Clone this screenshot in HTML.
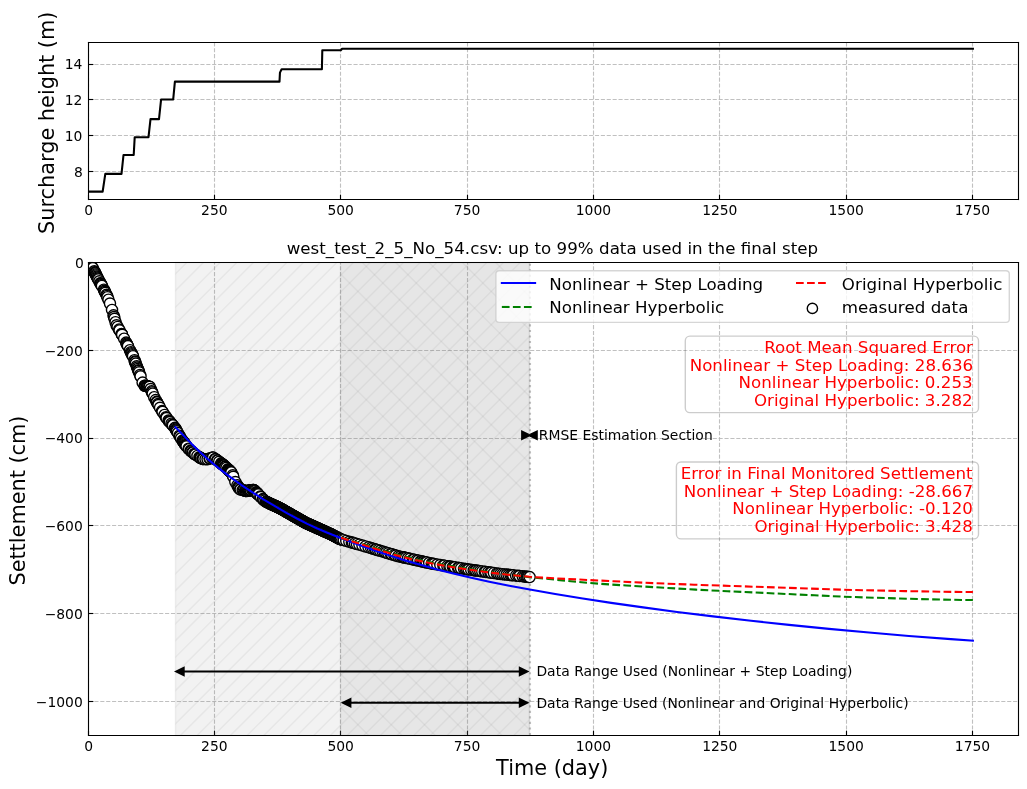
<!DOCTYPE html>
<html><head><meta charset="utf-8"><title>west_test_2_5_No_54</title>
<style>html,body{margin:0;padding:0;background:#fff}svg{display:block}text{font-family:"DejaVu Sans","Liberation Sans",sans-serif}</style>
</head><body>
<svg width="1027" height="789" viewBox="44.640 47.520 739.440 568.080">
 <defs>
  <style type="text/css">*{stroke-linejoin: round; stroke-linecap: butt}</style>
 </defs>
 <g id="figure_1">
  <g id="patch_1">
   <path d="M 0 648 L 864 648 L 864 0 L 0 0 z" style="fill: #ffffff"/>
  </g>
  <g id="axes_1">
   <g id="patch_2">
    <path d="M 108 191.16 L 777.6 191.16 L 777.6 77.76 L 108 77.76 z" style="fill: #ffffff"/>
   </g>
   <g id="matplotlib.axis_1">
    <g id="xtick_1">
     <g id="line2d_1">
      <path d="M 108.360 191.160 L 108.360 78.120" clip-path="url(#p1f0228e9eb)" style="fill: none; stroke-dasharray: 2.96,1.28; stroke-dashoffset: 0; stroke: #b0b0b0; stroke-opacity: 0.8; stroke-width: 0.8"/>
     </g>
     <g id="line2d_2">
      <g>
       <path d="M 0 0 L 0 -3.5" transform="translate(108.360 191.160)" style="stroke: #000000; stroke-width: 0.8"/>
      </g>
     </g>
     <g id="text_1">
      <text style="font-size: 10px; font-family: 'DejaVu Sans', 'Liberation Sans', sans-serif; text-anchor: middle" x="108.4320" y="202.3200">0</text>
     </g>
    </g>
    <g id="xtick_2">
     <g id="line2d_3">
      <path d="M 199.080 191.160 L 199.080 78.120" clip-path="url(#p1f0228e9eb)" style="fill: none; stroke-dasharray: 2.96,1.28; stroke-dashoffset: 0; stroke: #b0b0b0; stroke-opacity: 0.8; stroke-width: 0.8"/>
     </g>
     <g id="line2d_4">
      <g>
       <path d="M 0 0 L 0 -3.5" transform="translate(199.080 191.160)" style="stroke: #000000; stroke-width: 0.8"/>
      </g>
     </g>
     <g id="text_2">
      <text style="font-size: 10px; font-family: 'DejaVu Sans', 'Liberation Sans', sans-serif; text-anchor: middle" x="198.9783" y="202.3200">250</text>
     </g>
    </g>
    <g id="xtick_3">
     <g id="line2d_5">
      <path d="M 289.800 191.160 L 289.800 78.120" clip-path="url(#p1f0228e9eb)" style="fill: none; stroke-dasharray: 2.96,1.28; stroke-dashoffset: 0; stroke: #b0b0b0; stroke-opacity: 0.8; stroke-width: 0.8"/>
     </g>
     <g id="line2d_6">
      <g>
       <path d="M 0 0 L 0 -3.5" transform="translate(289.800 191.160)" style="stroke: #000000; stroke-width: 0.8"/>
      </g>
     </g>
     <g id="text_3">
      <text style="font-size: 10px; font-family: 'DejaVu Sans', 'Liberation Sans', sans-serif; text-anchor: middle" x="289.9565" y="202.3200">500</text>
     </g>
    </g>
    <g id="xtick_4">
     <g id="line2d_7">
      <path d="M 381.240 191.160 L 381.240 78.120" clip-path="url(#p1f0228e9eb)" style="fill: none; stroke-dasharray: 2.96,1.28; stroke-dashoffset: 0; stroke: #b0b0b0; stroke-opacity: 0.8; stroke-width: 0.8"/>
     </g>
     <g id="line2d_8">
      <g>
       <path d="M 0 0 L 0 -3.5" transform="translate(381.240 191.160)" style="stroke: #000000; stroke-width: 0.8"/>
      </g>
     </g>
     <g id="text_4">
      <text style="font-size: 10px; font-family: 'DejaVu Sans', 'Liberation Sans', sans-serif; text-anchor: middle" x="380.9348" y="202.3200">750</text>
     </g>
    </g>
    <g id="xtick_5">
     <g id="line2d_9">
      <path d="M 471.960 191.160 L 471.960 78.120" clip-path="url(#p1f0228e9eb)" style="fill: none; stroke-dasharray: 2.96,1.28; stroke-dashoffset: 0; stroke: #b0b0b0; stroke-opacity: 0.8; stroke-width: 0.8"/>
     </g>
     <g id="line2d_10">
      <g>
       <path d="M 0 0 L 0 -3.5" transform="translate(471.960 191.160)" style="stroke: #000000; stroke-width: 0.8"/>
      </g>
     </g>
     <g id="text_5">
      <text style="font-size: 10px; font-family: 'DejaVu Sans', 'Liberation Sans', sans-serif; text-anchor: middle" x="471.9130" y="202.3200">1000</text>
     </g>
    </g>
    <g id="xtick_6">
     <g id="line2d_11">
      <path d="M 562.680 191.160 L 562.680 78.120" clip-path="url(#p1f0228e9eb)" style="fill: none; stroke-dasharray: 2.96,1.28; stroke-dashoffset: 0; stroke: #b0b0b0; stroke-opacity: 0.8; stroke-width: 0.8"/>
     </g>
     <g id="line2d_12">
      <g>
       <path d="M 0 0 L 0 -3.5" transform="translate(562.680 191.160)" style="stroke: #000000; stroke-width: 0.8"/>
      </g>
     </g>
     <g id="text_6">
      <text style="font-size: 10px; font-family: 'DejaVu Sans', 'Liberation Sans', sans-serif; text-anchor: middle" x="562.8913" y="202.3200">1250</text>
     </g>
    </g>
    <g id="xtick_7">
     <g id="line2d_13">
      <path d="M 654.120 191.160 L 654.120 78.120" clip-path="url(#p1f0228e9eb)" style="fill: none; stroke-dasharray: 2.96,1.28; stroke-dashoffset: 0; stroke: #b0b0b0; stroke-opacity: 0.8; stroke-width: 0.8"/>
     </g>
     <g id="line2d_14">
      <g>
       <path d="M 0 0 L 0 -3.5" transform="translate(654.120 191.160)" style="stroke: #000000; stroke-width: 0.8"/>
      </g>
     </g>
     <g id="text_7">
      <text style="font-size: 10px; font-family: 'DejaVu Sans', 'Liberation Sans', sans-serif; text-anchor: middle" x="653.8696" y="202.3200">1500</text>
     </g>
    </g>
    <g id="xtick_8">
     <g id="line2d_15">
      <path d="M 744.840 191.160 L 744.840 78.120" clip-path="url(#p1f0228e9eb)" style="fill: none; stroke-dasharray: 2.96,1.28; stroke-dashoffset: 0; stroke: #b0b0b0; stroke-opacity: 0.8; stroke-width: 0.8"/>
     </g>
     <g id="line2d_16">
      <g>
       <path d="M 0 0 L 0 -3.5" transform="translate(744.840 191.160)" style="stroke: #000000; stroke-width: 0.8"/>
      </g>
     </g>
     <g id="text_8">
      <text style="font-size: 10px; font-family: 'DejaVu Sans', 'Liberation Sans', sans-serif; text-anchor: middle" x="744.8478" y="202.3200">1750</text>
     </g>
    </g>
   </g>
   <g id="matplotlib.axis_2">
    <g id="ytick_1">
     <g id="line2d_17">
      <path d="M 108.360 171.000 L 777.960 171.000" clip-path="url(#p1f0228e9eb)" style="fill: none; stroke-dasharray: 2.96,1.28; stroke-dashoffset: 0; stroke: #b0b0b0; stroke-opacity: 0.8; stroke-width: 0.8"/>
     </g>
     <g id="line2d_18">
      <g>
       <path d="M 0 0 L 3.5 0" transform="translate(108.360 171.000)" style="stroke: #000000; stroke-width: 0.8"/>
      </g>
     </g>
     <g id="text_9">
      <text style="font-size: 10px; font-family: 'DejaVu Sans', 'Liberation Sans', sans-serif; text-anchor: end" x="104.2840" y="174.9600">8</text>
     </g>
    </g>
    <g id="ytick_2">
     <g id="line2d_19">
      <path d="M 108.360 145.080 L 777.960 145.080" clip-path="url(#p1f0228e9eb)" style="fill: none; stroke-dasharray: 2.96,1.28; stroke-dashoffset: 0; stroke: #b0b0b0; stroke-opacity: 0.8; stroke-width: 0.8"/>
     </g>
     <g id="line2d_20">
      <g>
       <path d="M 0 0 L 3.5 0" transform="translate(108.360 145.080)" style="stroke: #000000; stroke-width: 0.8"/>
      </g>
     </g>
     <g id="text_10">
      <text style="font-size: 10px; font-family: 'DejaVu Sans', 'Liberation Sans', sans-serif; text-anchor: end" x="103.8880" y="149.0400">10</text>
     </g>
    </g>
    <g id="ytick_3">
     <g id="line2d_21">
      <path d="M 108.360 119.160 L 777.960 119.160" clip-path="url(#p1f0228e9eb)" style="fill: none; stroke-dasharray: 2.96,1.28; stroke-dashoffset: 0; stroke: #b0b0b0; stroke-opacity: 0.8; stroke-width: 0.8"/>
     </g>
     <g id="line2d_22">
      <g>
       <path d="M 0 0 L 3.5 0" transform="translate(108.360 119.160)" style="stroke: #000000; stroke-width: 0.8"/>
      </g>
     </g>
     <g id="text_11">
      <text style="font-size: 10px; font-family: 'DejaVu Sans', 'Liberation Sans', sans-serif; text-anchor: end" x="103.8880" y="123.1200">12</text>
     </g>
    </g>
    <g id="ytick_4">
     <g id="line2d_23">
      <path d="M 108.360 93.960 L 777.960 93.960" clip-path="url(#p1f0228e9eb)" style="fill: none; stroke-dasharray: 2.96,1.28; stroke-dashoffset: 0; stroke: #b0b0b0; stroke-opacity: 0.8; stroke-width: 0.8"/>
     </g>
     <g id="line2d_24">
      <g>
       <path d="M 0 0 L 3.5 0" transform="translate(108.360 93.960)" style="stroke: #000000; stroke-width: 0.8"/>
      </g>
     </g>
     <g id="text_12">
      <text style="font-size: 10px; font-family: 'DejaVu Sans', 'Liberation Sans', sans-serif; text-anchor: end" x="103.8880" y="97.2000">14</text>
     </g>
    </g>
    <g id="text_13">
     <text style="font-size: 15px; font-family: 'DejaVu Sans', 'Liberation Sans', sans-serif; text-anchor: middle" x="83.7195" y="135.9000" transform="rotate(-90 83.7195 135.9000)">Surcharge height (m)</text>
    </g>
   </g>
   <g id="line2d_25">
    <path d="M 108 185.472 L 118.548 185.472 L 120.456 172.728 L 132.12 172.728 L 133.56 159.12 L 140.904 159.12 L 141.624 146.304 L 151.56 146.304 L 153 133.272 L 159.12 133.272 L 160.632 119.124 L 169.344 119.124 L 170.568 106.272 L 245.88 106.272 L 246.2112 99.792 L 247.392 97.344 L 276.408 97.344 L 276.696 83.6784 L 290.016 83.6784 L 290.952 82.6272 L 745.128 82.6272" clip-path="url(#p1f0228e9eb)" style="fill: none; stroke: #000000; stroke-width: 1.5; stroke-linecap: square"/>
   </g>
   <g id="patch_3">
    <path d="M 108.360 191.160 L 108.360 78.120" style="fill: none; stroke: #000000; stroke-width: 0.8; stroke-linejoin: miter; stroke-linecap: square"/>
   </g>
   <g id="patch_4">
    <path d="M 777.960 191.160 L 777.960 78.120" style="fill: none; stroke: #000000; stroke-width: 0.8; stroke-linejoin: miter; stroke-linecap: square"/>
   </g>
   <g id="patch_5">
    <path d="M 108.360 191.160 L 777.960 191.160" style="fill: none; stroke: #000000; stroke-width: 0.8; stroke-linejoin: miter; stroke-linecap: square"/>
   </g>
   <g id="patch_6">
    <path d="M 108.360 78.120 L 777.960 78.120" style="fill: none; stroke: #000000; stroke-width: 0.8; stroke-linejoin: miter; stroke-linecap: square"/>
   </g>
  </g>
  <g id="axes_2">
   <g id="patch_7">
    <path d="M 108 576.72 L 777.6 576.72 L 777.6 236.52 L 108 236.52 z" style="fill: #ffffff"/>
   </g>
   <g id="matplotlib.axis_3">
    <g id="xtick_9">
     <g id="line2d_26">
      <path d="M 108.360 577.080 L 108.360 236.520" clip-path="url(#p2898e21141)" style="fill: none; stroke-dasharray: 2.96,1.28; stroke-dashoffset: 0; stroke: #b0b0b0; stroke-opacity: 0.8; stroke-width: 0.8"/>
     </g>
     <g id="line2d_27">
      <g>
       <path d="M 0 0 L 0 -3.5" transform="translate(108.360 577.080)" style="stroke: #000000; stroke-width: 0.8"/>
      </g>
     </g>
     <g id="text_14">
      <text style="font-size: 10px; font-family: 'DejaVu Sans', 'Liberation Sans', sans-serif; text-anchor: middle" x="108.4320" y="588.2400">0</text>
     </g>
    </g>
    <g id="xtick_10">
     <g id="line2d_28">
      <path d="M 199.080 577.080 L 199.080 236.520" clip-path="url(#p2898e21141)" style="fill: none; stroke-dasharray: 2.96,1.28; stroke-dashoffset: 0; stroke: #b0b0b0; stroke-opacity: 0.8; stroke-width: 0.8"/>
     </g>
     <g id="line2d_29">
      <g>
       <path d="M 0 0 L 0 -3.5" transform="translate(199.080 577.080)" style="stroke: #000000; stroke-width: 0.8"/>
      </g>
     </g>
     <g id="text_15">
      <text style="font-size: 10px; font-family: 'DejaVu Sans', 'Liberation Sans', sans-serif; text-anchor: middle" x="198.9783" y="588.2400">250</text>
     </g>
    </g>
    <g id="xtick_11">
     <g id="line2d_30">
      <path d="M 289.800 577.080 L 289.800 236.520" clip-path="url(#p2898e21141)" style="fill: none; stroke-dasharray: 2.96,1.28; stroke-dashoffset: 0; stroke: #b0b0b0; stroke-opacity: 0.8; stroke-width: 0.8"/>
     </g>
     <g id="line2d_31">
      <g>
       <path d="M 0 0 L 0 -3.5" transform="translate(289.800 577.080)" style="stroke: #000000; stroke-width: 0.8"/>
      </g>
     </g>
     <g id="text_16">
      <text style="font-size: 10px; font-family: 'DejaVu Sans', 'Liberation Sans', sans-serif; text-anchor: middle" x="289.9565" y="588.2400">500</text>
     </g>
    </g>
    <g id="xtick_12">
     <g id="line2d_32">
      <path d="M 381.240 577.080 L 381.240 236.520" clip-path="url(#p2898e21141)" style="fill: none; stroke-dasharray: 2.96,1.28; stroke-dashoffset: 0; stroke: #b0b0b0; stroke-opacity: 0.8; stroke-width: 0.8"/>
     </g>
     <g id="line2d_33">
      <g>
       <path d="M 0 0 L 0 -3.5" transform="translate(381.240 577.080)" style="stroke: #000000; stroke-width: 0.8"/>
      </g>
     </g>
     <g id="text_17">
      <text style="font-size: 10px; font-family: 'DejaVu Sans', 'Liberation Sans', sans-serif; text-anchor: middle" x="380.9348" y="588.2400">750</text>
     </g>
    </g>
    <g id="xtick_13">
     <g id="line2d_34">
      <path d="M 471.960 577.080 L 471.960 236.520" clip-path="url(#p2898e21141)" style="fill: none; stroke-dasharray: 2.96,1.28; stroke-dashoffset: 0; stroke: #b0b0b0; stroke-opacity: 0.8; stroke-width: 0.8"/>
     </g>
     <g id="line2d_35">
      <g>
       <path d="M 0 0 L 0 -3.5" transform="translate(471.960 577.080)" style="stroke: #000000; stroke-width: 0.8"/>
      </g>
     </g>
     <g id="text_18">
      <text style="font-size: 10px; font-family: 'DejaVu Sans', 'Liberation Sans', sans-serif; text-anchor: middle" x="471.9130" y="588.2400">1000</text>
     </g>
    </g>
    <g id="xtick_14">
     <g id="line2d_36">
      <path d="M 562.680 577.080 L 562.680 236.520" clip-path="url(#p2898e21141)" style="fill: none; stroke-dasharray: 2.96,1.28; stroke-dashoffset: 0; stroke: #b0b0b0; stroke-opacity: 0.8; stroke-width: 0.8"/>
     </g>
     <g id="line2d_37">
      <g>
       <path d="M 0 0 L 0 -3.5" transform="translate(562.680 577.080)" style="stroke: #000000; stroke-width: 0.8"/>
      </g>
     </g>
     <g id="text_19">
      <text style="font-size: 10px; font-family: 'DejaVu Sans', 'Liberation Sans', sans-serif; text-anchor: middle" x="562.8913" y="588.2400">1250</text>
     </g>
    </g>
    <g id="xtick_15">
     <g id="line2d_38">
      <path d="M 654.120 577.080 L 654.120 236.520" clip-path="url(#p2898e21141)" style="fill: none; stroke-dasharray: 2.96,1.28; stroke-dashoffset: 0; stroke: #b0b0b0; stroke-opacity: 0.8; stroke-width: 0.8"/>
     </g>
     <g id="line2d_39">
      <g>
       <path d="M 0 0 L 0 -3.5" transform="translate(654.120 577.080)" style="stroke: #000000; stroke-width: 0.8"/>
      </g>
     </g>
     <g id="text_20">
      <text style="font-size: 10px; font-family: 'DejaVu Sans', 'Liberation Sans', sans-serif; text-anchor: middle" x="653.8696" y="588.2400">1500</text>
     </g>
    </g>
    <g id="xtick_16">
     <g id="line2d_40">
      <path d="M 744.840 577.080 L 744.840 236.520" clip-path="url(#p2898e21141)" style="fill: none; stroke-dasharray: 2.96,1.28; stroke-dashoffset: 0; stroke: #b0b0b0; stroke-opacity: 0.8; stroke-width: 0.8"/>
     </g>
     <g id="line2d_41">
      <g>
       <path d="M 0 0 L 0 -3.5" transform="translate(744.840 577.080)" style="stroke: #000000; stroke-width: 0.8"/>
      </g>
     </g>
     <g id="text_21">
      <text style="font-size: 10px; font-family: 'DejaVu Sans', 'Liberation Sans', sans-serif; text-anchor: middle" x="744.8478" y="588.2400">1750</text>
     </g>
    </g>
    <g id="text_22">
     <text style="font-size: 15px; font-family: 'DejaVu Sans', 'Liberation Sans', sans-serif; text-anchor: middle" x="442.2240" y="605.2958">Time (day)</text>
    </g>
   </g>
   <g id="matplotlib.axis_4">
    <g id="ytick_5">
     <g id="line2d_42">
      <path d="M 108.360 552.600 L 777.960 552.600" clip-path="url(#p2898e21141)" style="fill: none; stroke-dasharray: 2.96,1.28; stroke-dashoffset: 0; stroke: #b0b0b0; stroke-opacity: 0.8; stroke-width: 0.8"/>
     </g>
     <g id="line2d_43">
      <g>
       <path d="M 0 0 L 3.5 0" transform="translate(108.360 552.600)" style="stroke: #000000; stroke-width: 0.8"/>
      </g>
     </g>
     <g id="text_23">
      <text style="font-size: 10px; font-family: 'DejaVu Sans', 'Liberation Sans', sans-serif; text-anchor: end" x="104.2120" y="556.3632">−1000</text>
     </g>
    </g>
    <g id="ytick_6">
     <g id="line2d_44">
      <path d="M 108.360 489.240 L 777.960 489.240" clip-path="url(#p2898e21141)" style="fill: none; stroke-dasharray: 2.96,1.28; stroke-dashoffset: 0; stroke: #b0b0b0; stroke-opacity: 0.8; stroke-width: 0.8"/>
     </g>
     <g id="line2d_45">
      <g>
       <path d="M 0 0 L 3.5 0" transform="translate(108.360 489.240)" style="stroke: #000000; stroke-width: 0.8"/>
      </g>
     </g>
     <g id="text_24">
      <text style="font-size: 10px; font-family: 'DejaVu Sans', 'Liberation Sans', sans-serif; text-anchor: end" x="104.2120" y="493.1544">−800</text>
     </g>
    </g>
    <g id="ytick_7">
     <g id="line2d_46">
      <path d="M 108.360 425.880 L 777.960 425.880" clip-path="url(#p2898e21141)" style="fill: none; stroke-dasharray: 2.96,1.28; stroke-dashoffset: 0; stroke: #b0b0b0; stroke-opacity: 0.8; stroke-width: 0.8"/>
     </g>
     <g id="line2d_47">
      <g>
       <path d="M 0 0 L 3.5 0" transform="translate(108.360 425.880)" style="stroke: #000000; stroke-width: 0.8"/>
      </g>
     </g>
     <g id="text_25">
      <text style="font-size: 10px; font-family: 'DejaVu Sans', 'Liberation Sans', sans-serif; text-anchor: end" x="104.2120" y="429.9456">−600</text>
     </g>
    </g>
    <g id="ytick_8">
     <g id="line2d_48">
      <path d="M 108.360 363.240 L 777.960 363.240" clip-path="url(#p2898e21141)" style="fill: none; stroke-dasharray: 2.96,1.28; stroke-dashoffset: 0; stroke: #b0b0b0; stroke-opacity: 0.8; stroke-width: 0.8"/>
     </g>
     <g id="line2d_49">
      <g>
       <path d="M 0 0 L 3.5 0" transform="translate(108.360 363.240)" style="stroke: #000000; stroke-width: 0.8"/>
      </g>
     </g>
     <g id="text_26">
      <text style="font-size: 10px; font-family: 'DejaVu Sans', 'Liberation Sans', sans-serif; text-anchor: end" x="104.2120" y="366.7368">−400</text>
     </g>
    </g>
    <g id="ytick_9">
     <g id="line2d_50">
      <path d="M 108.360 299.880 L 777.960 299.880" clip-path="url(#p2898e21141)" style="fill: none; stroke-dasharray: 2.96,1.28; stroke-dashoffset: 0; stroke: #b0b0b0; stroke-opacity: 0.8; stroke-width: 0.8"/>
     </g>
     <g id="line2d_51">
      <g>
       <path d="M 0 0 L 3.5 0" transform="translate(108.360 299.880)" style="stroke: #000000; stroke-width: 0.8"/>
      </g>
     </g>
     <g id="text_27">
      <text style="font-size: 10px; font-family: 'DejaVu Sans', 'Liberation Sans', sans-serif; text-anchor: end" x="104.2120" y="303.5280">−200</text>
     </g>
    </g>
    <g id="ytick_10">
     <g id="line2d_52">
      <path d="M 108.360 236.520 L 777.960 236.520" clip-path="url(#p2898e21141)" style="fill: none; stroke-dasharray: 2.96,1.28; stroke-dashoffset: 0; stroke: #b0b0b0; stroke-opacity: 0.8; stroke-width: 0.8"/>
     </g>
     <g id="line2d_53">
      <g>
       <path d="M 0 0 L 3.5 0" transform="translate(108.360 236.520)" style="stroke: #000000; stroke-width: 0.8"/>
      </g>
     </g>
     <g id="text_28">
      <text style="font-size: 10px; font-family: 'DejaVu Sans', 'Liberation Sans', sans-serif; text-anchor: end" x="105.0040" y="240.3192">0</text>
     </g>
    </g>
    <g id="text_29">
     <text style="font-size: 15px; font-family: 'DejaVu Sans', 'Liberation Sans', sans-serif; text-anchor: middle" x="62.7588" y="407.9160" transform="rotate(-90 62.7588 407.9160)">Settlement (cm)</text>
    </g>
   </g>
   <g id="patch_8">
    <clipPath id="spanclip1"><rect x="171.000" y="236.520" width="254.880" height="340.560"/></clipPath><rect x="171.000" y="236.520" width="254.880" height="340.560" style="fill:#808080;fill-opacity:0.1;stroke:#808080;stroke-opacity:0.1;stroke-width:1"/><path clip-path="url(#spanclip1)" d="M-187.44 579.08L157.12 234.52M-175.44 579.08L169.12 234.52M-163.44 579.08L181.12 234.52M-151.44 579.08L193.12 234.52M-139.44 579.08L205.12 234.52M-127.44 579.08L217.12 234.52M-115.44 579.08L229.12 234.52M-103.44 579.08L241.12 234.52M-91.44 579.08L253.12 234.52M-79.44 579.08L265.12 234.52M-67.44 579.08L277.12 234.52M-55.44 579.08L289.12 234.52M-43.44 579.08L301.12 234.52M-31.44 579.08L313.12 234.52M-19.44 579.08L325.12 234.52M-7.44 579.08L337.12 234.52M4.56 579.08L349.12 234.52M16.56 579.08L361.12 234.52M28.56 579.08L373.12 234.52M40.56 579.08L385.12 234.52M52.56 579.08L397.12 234.52M64.56 579.08L409.12 234.52M76.56 579.08L421.12 234.52M88.56 579.08L433.12 234.52M100.56 579.08L445.12 234.52M112.56 579.08L457.12 234.52M124.56 579.08L469.12 234.52M136.56 579.08L481.12 234.52M148.56 579.08L493.12 234.52M160.56 579.08L505.12 234.52M172.56 579.08L517.12 234.52M184.56 579.08L529.12 234.52M196.56 579.08L541.12 234.52M208.56 579.08L553.12 234.52M220.56 579.08L565.12 234.52M232.56 579.08L577.12 234.52M244.56 579.08L589.12 234.52M256.56 579.08L601.12 234.52M268.56 579.08L613.12 234.52M280.56 579.08L625.12 234.52M292.56 579.08L637.12 234.52M304.56 579.08L649.12 234.52M316.56 579.08L661.12 234.52M328.56 579.08L673.12 234.52M340.56 579.08L685.12 234.52M352.56 579.08L697.12 234.52M364.56 579.08L709.12 234.52M376.56 579.08L721.12 234.52M388.56 579.08L733.12 234.52M400.56 579.08L745.12 234.52M412.56 579.08L757.12 234.52M424.56 579.08L769.12 234.52M436.56 579.08L781.12 234.52" style="fill:none;stroke:#808080;stroke-opacity:0.1;stroke-width:1"/>
   </g>
   <g id="patch_9">
    <clipPath id="spanclip2"><rect x="289.800" y="236.520" width="136.080" height="340.560"/></clipPath><rect x="289.800" y="236.520" width="136.080" height="340.560" style="fill:#808080;fill-opacity:0.1;stroke:#808080;stroke-opacity:0.1;stroke-width:1"/><path clip-path="url(#spanclip2)" d="M-80.46 234.52L264.10 579.08M-56.46 234.52L288.10 579.08M-32.46 234.52L312.10 579.08M-8.46 234.52L336.10 579.08M15.54 234.52L360.10 579.08M39.54 234.52L384.10 579.08M63.54 234.52L408.10 579.08M87.54 234.52L432.10 579.08M111.54 234.52L456.10 579.08M135.54 234.52L480.10 579.08M159.54 234.52L504.10 579.08M183.54 234.52L528.10 579.08M207.54 234.52L552.10 579.08M231.54 234.52L576.10 579.08M255.54 234.52L600.10 579.08M279.54 234.52L624.10 579.08M303.54 234.52L648.10 579.08M327.54 234.52L672.10 579.08M351.54 234.52L696.10 579.08M375.54 234.52L720.10 579.08M399.54 234.52L744.10 579.08M423.54 234.52L768.10 579.08M447.54 234.52L792.10 579.08M471.54 234.52L816.10 579.08" style="fill:none;stroke:#808080;stroke-opacity:0.1;stroke-width:1"/>
   </g>
   <g id="PathCollection_1" style="fill:#fff;stroke:#000;stroke-width:1">
    <g clip-path="url(#p2898e21141)">
     <circle cx="108.00" cy="236.52" r="4"/>
     <circle cx="109.09" cy="237.61" r="4"/>
     <circle cx="109.27" cy="237.80" r="4"/>
     <circle cx="109.64" cy="238.16" r="4"/>
     <circle cx="110.00" cy="238.53" r="4"/>
     <circle cx="110.37" cy="238.89" r="4"/>
     <circle cx="111.46" cy="240.55" r="4"/>
     <circle cx="112.55" cy="242.83" r="4"/>
     <circle cx="112.91" cy="243.59" r="4"/>
     <circle cx="113.09" cy="243.97" r="4"/>
     <circle cx="113.28" cy="244.35" r="4"/>
     <circle cx="113.64" cy="245.11" r="4"/>
     <circle cx="114.00" cy="245.87" r="4"/>
     <circle cx="114.37" cy="246.63" r="4"/>
     <circle cx="114.73" cy="247.37" r="4"/>
     <circle cx="115.10" cy="248.04" r="4"/>
     <circle cx="115.46" cy="248.71" r="4"/>
     <circle cx="116.19" cy="250.05" r="4"/>
     <circle cx="116.92" cy="251.39" r="4"/>
     <circle cx="117.10" cy="251.73" r="4"/>
     <circle cx="117.28" cy="252.07" r="4"/>
     <circle cx="117.64" cy="252.74" r="4"/>
     <circle cx="118.01" cy="253.41" r="4"/>
     <circle cx="119.46" cy="256.12" r="4"/>
     <circle cx="119.83" cy="256.85" r="4"/>
     <circle cx="120.19" cy="257.59" r="4"/>
     <circle cx="120.56" cy="258.33" r="4"/>
     <circle cx="121.28" cy="259.81" r="4"/>
     <circle cx="121.65" cy="260.60" r="4"/>
     <circle cx="122.01" cy="261.51" r="4"/>
     <circle cx="122.74" cy="263.33" r="4"/>
     <circle cx="123.83" cy="266.06" r="4"/>
     <circle cx="125.29" cy="270.65" r="4"/>
     <circle cx="126.38" cy="274.56" r="4"/>
     <circle cx="126.74" cy="275.78" r="4"/>
     <circle cx="127.11" cy="277.01" r="4"/>
     <circle cx="127.83" cy="279.45" r="4"/>
     <circle cx="128.56" cy="281.69" r="4"/>
     <circle cx="129.29" cy="282.94" r="4"/>
     <circle cx="130.38" cy="284.81" r="4"/>
     <circle cx="130.74" cy="285.43" r="4"/>
     <circle cx="132.20" cy="287.93" r="4"/>
     <circle cx="132.38" cy="288.24" r="4"/>
     <circle cx="132.56" cy="288.56" r="4"/>
     <circle cx="134.02" cy="291.36" r="4"/>
     <circle cx="135.48" cy="294.21" r="4"/>
     <circle cx="135.84" cy="294.93" r="4"/>
     <circle cx="136.20" cy="295.64" r="4"/>
     <circle cx="136.57" cy="296.36" r="4"/>
     <circle cx="136.75" cy="296.71" r="4"/>
     <circle cx="138.20" cy="299.62" r="4"/>
     <circle cx="138.93" cy="301.07" r="4"/>
     <circle cx="139.30" cy="301.80" r="4"/>
     <circle cx="139.66" cy="302.53" r="4"/>
     <circle cx="140.02" cy="303.25" r="4"/>
     <circle cx="140.39" cy="303.98" r="4"/>
     <circle cx="141.48" cy="306.88" r="4"/>
     <circle cx="141.84" cy="307.85" r="4"/>
     <circle cx="142.03" cy="308.33" r="4"/>
     <circle cx="142.39" cy="309.30" r="4"/>
     <circle cx="143.12" cy="311.23" r="4"/>
     <circle cx="143.48" cy="312.20" r="4"/>
     <circle cx="143.85" cy="313.16" r="4"/>
     <circle cx="144.21" cy="314.13" r="4"/>
     <circle cx="144.39" cy="314.61" r="4"/>
     <circle cx="144.76" cy="315.57" r="4"/>
     <circle cx="145.48" cy="317.50" r="4"/>
     <circle cx="145.85" cy="318.47" r="4"/>
     <circle cx="147.30" cy="322.97" r="4"/>
     <circle cx="148.76" cy="325.25" r="4"/>
     <circle cx="149.12" cy="325.33" r="4"/>
     <circle cx="149.49" cy="325.40" r="4"/>
     <circle cx="150.21" cy="325.56" r="4"/>
     <circle cx="150.58" cy="325.63" r="4"/>
     <circle cx="150.94" cy="325.71" r="4"/>
     <circle cx="151.31" cy="325.79" r="4"/>
     <circle cx="152.03" cy="325.94" r="4"/>
     <circle cx="152.40" cy="326.01" r="4"/>
     <circle cx="153.13" cy="327.61" r="4"/>
     <circle cx="153.85" cy="329.28" r="4"/>
     <circle cx="154.22" cy="330.11" r="4"/>
     <circle cx="154.58" cy="330.95" r="4"/>
     <circle cx="155.67" cy="333.45" r="4"/>
     <circle cx="156.76" cy="335.56" r="4"/>
     <circle cx="157.49" cy="336.86" r="4"/>
     <circle cx="157.67" cy="337.19" r="4"/>
     <circle cx="158.40" cy="338.49" r="4"/>
     <circle cx="158.77" cy="339.15" r="4"/>
     <circle cx="159.86" cy="341.11" r="4"/>
     <circle cx="161.31" cy="343.49" r="4"/>
     <circle cx="161.68" cy="344.04" r="4"/>
     <circle cx="163.13" cy="346.27" r="4"/>
     <circle cx="164.22" cy="347.94" r="4"/>
     <circle cx="164.59" cy="348.49" r="4"/>
     <circle cx="166.04" cy="350.31" r="4"/>
     <circle cx="166.41" cy="350.73" r="4"/>
     <circle cx="166.59" cy="350.93" r="4"/>
     <circle cx="166.95" cy="351.35" r="4"/>
     <circle cx="168.05" cy="352.60" r="4"/>
     <circle cx="168.77" cy="353.43" r="4"/>
     <circle cx="169.14" cy="353.85" r="4"/>
     <circle cx="170.59" cy="355.56" r="4"/>
     <circle cx="170.96" cy="356.19" r="4"/>
     <circle cx="171.32" cy="356.82" r="4"/>
     <circle cx="171.68" cy="357.45" r="4"/>
     <circle cx="172.05" cy="358.08" r="4"/>
     <circle cx="172.78" cy="359.34" r="4"/>
     <circle cx="173.87" cy="361.23" r="4"/>
     <circle cx="174.23" cy="361.86" r="4"/>
     <circle cx="174.96" cy="363.12" r="4"/>
     <circle cx="176.05" cy="364.77" r="4"/>
     <circle cx="176.42" cy="365.28" r="4"/>
     <circle cx="176.78" cy="365.79" r="4"/>
     <circle cx="177.14" cy="366.30" r="4"/>
     <circle cx="177.51" cy="366.81" r="4"/>
     <circle cx="177.87" cy="367.32" r="4"/>
     <circle cx="178.24" cy="367.84" r="4"/>
     <circle cx="178.60" cy="368.35" r="4"/>
     <circle cx="178.96" cy="368.86" r="4"/>
     <circle cx="180.42" cy="370.61" r="4"/>
     <circle cx="180.78" cy="370.94" r="4"/>
     <circle cx="181.87" cy="371.92" r="4"/>
     <circle cx="182.24" cy="372.25" r="4"/>
     <circle cx="182.42" cy="372.41" r="4"/>
     <circle cx="183.15" cy="373.06" r="4"/>
     <circle cx="183.51" cy="373.39" r="4"/>
     <circle cx="184.60" cy="374.33" r="4"/>
     <circle cx="184.97" cy="374.57" r="4"/>
     <circle cx="185.33" cy="374.81" r="4"/>
     <circle cx="186.79" cy="375.78" r="4"/>
     <circle cx="188.24" cy="376.75" r="4"/>
     <circle cx="188.61" cy="376.99" r="4"/>
     <circle cx="188.97" cy="377.24" r="4"/>
     <circle cx="189.33" cy="377.48" r="4"/>
     <circle cx="190.43" cy="377.92" r="4"/>
     <circle cx="190.79" cy="377.97" r="4"/>
     <circle cx="191.15" cy="378.01" r="4"/>
     <circle cx="192.61" cy="378.20" r="4"/>
     <circle cx="194.07" cy="378.15" r="4"/>
     <circle cx="195.52" cy="377.70" r="4"/>
     <circle cx="195.88" cy="377.59" r="4"/>
     <circle cx="197.34" cy="377.14" r="4"/>
     <circle cx="197.70" cy="377.02" r="4"/>
     <circle cx="198.07" cy="376.91" r="4"/>
     <circle cx="199.52" cy="377.91" r="4"/>
     <circle cx="199.89" cy="378.17" r="4"/>
     <circle cx="200.98" cy="378.94" r="4"/>
     <circle cx="201.34" cy="379.20" r="4"/>
     <circle cx="202.44" cy="379.97" r="4"/>
     <circle cx="203.89" cy="381.13" r="4"/>
     <circle cx="204.07" cy="381.28" r="4"/>
     <circle cx="204.44" cy="381.58" r="4"/>
     <circle cx="204.80" cy="381.87" r="4"/>
     <circle cx="204.98" cy="382.02" r="4"/>
     <circle cx="205.16" cy="382.17" r="4"/>
     <circle cx="205.53" cy="382.46" r="4"/>
     <circle cx="205.89" cy="382.76" r="4"/>
     <circle cx="206.62" cy="383.35" r="4"/>
     <circle cx="206.98" cy="383.65" r="4"/>
     <circle cx="207.71" cy="384.32" r="4"/>
     <circle cx="208.80" cy="385.39" r="4"/>
     <circle cx="209.17" cy="385.75" r="4"/>
     <circle cx="209.53" cy="386.10" r="4"/>
     <circle cx="209.71" cy="386.28" r="4"/>
     <circle cx="210.08" cy="386.64" r="4"/>
     <circle cx="210.44" cy="386.99" r="4"/>
     <circle cx="210.81" cy="387.35" r="4"/>
     <circle cx="211.17" cy="387.71" r="4"/>
     <circle cx="212.26" cy="389.69" r="4"/>
     <circle cx="212.62" cy="390.79" r="4"/>
     <circle cx="214.08" cy="394.57" r="4"/>
     <circle cx="215.54" cy="396.95" r="4"/>
     <circle cx="216.26" cy="398.13" r="4"/>
     <circle cx="216.45" cy="398.43" r="4"/>
     <circle cx="216.81" cy="399.03" r="4"/>
     <circle cx="217.54" cy="399.86" r="4"/>
     <circle cx="217.90" cy="399.97" r="4"/>
     <circle cx="219.36" cy="400.40" r="4"/>
     <circle cx="220.09" cy="400.61" r="4"/>
     <circle cx="221.18" cy="400.94" r="4"/>
     <circle cx="221.36" cy="400.99" r="4"/>
     <circle cx="221.72" cy="401.10" r="4"/>
     <circle cx="222.45" cy="401.04" r="4"/>
     <circle cx="223.18" cy="400.91" r="4"/>
     <circle cx="223.54" cy="400.85" r="4"/>
     <circle cx="223.91" cy="400.79" r="4"/>
     <circle cx="224.27" cy="400.73" r="4"/>
     <circle cx="224.45" cy="400.70" r="4"/>
     <circle cx="225.18" cy="400.58" r="4"/>
     <circle cx="226.27" cy="400.39" r="4"/>
     <circle cx="227.00" cy="400.27" r="4"/>
     <circle cx="227.18" cy="400.24" r="4"/>
     <circle cx="227.55" cy="400.46" r="4"/>
     <circle cx="227.91" cy="400.82" r="4"/>
     <circle cx="228.27" cy="401.18" r="4"/>
     <circle cx="229.00" cy="401.90" r="4"/>
     <circle cx="229.37" cy="402.26" r="4"/>
     <circle cx="229.55" cy="402.45" r="4"/>
     <circle cx="229.91" cy="402.81" r="4"/>
     <circle cx="230.27" cy="403.17" r="4"/>
     <circle cx="230.64" cy="403.53" r="4"/>
     <circle cx="232.09" cy="404.98" r="4"/>
     <circle cx="232.46" cy="405.35" r="4"/>
     <circle cx="233.91" cy="406.84" r="4"/>
     <circle cx="234.28" cy="407.21" r="4"/>
     <circle cx="235.01" cy="407.95" r="4"/>
     <circle cx="236.10" cy="408.71" r="4"/>
     <circle cx="236.46" cy="408.88" r="4"/>
     <circle cx="236.83" cy="409.05" r="4"/>
     <circle cx="237.55" cy="409.39" r="4"/>
     <circle cx="237.74" cy="409.47" r="4"/>
     <circle cx="238.10" cy="409.64" r="4"/>
     <circle cx="238.46" cy="409.81" r="4"/>
     <circle cx="238.83" cy="409.98" r="4"/>
     <circle cx="239.19" cy="410.15" r="4"/>
     <circle cx="239.37" cy="410.24" r="4"/>
     <circle cx="239.74" cy="410.41" r="4"/>
     <circle cx="240.10" cy="410.58" r="4"/>
     <circle cx="240.46" cy="410.75" r="4"/>
     <circle cx="240.83" cy="410.92" r="4"/>
     <circle cx="241.19" cy="411.09" r="4"/>
     <circle cx="241.56" cy="411.26" r="4"/>
     <circle cx="241.92" cy="411.43" r="4"/>
     <circle cx="242.10" cy="411.51" r="4"/>
     <circle cx="242.47" cy="411.68" r="4"/>
     <circle cx="242.65" cy="411.77" r="4"/>
     <circle cx="243.01" cy="411.94" r="4"/>
     <circle cx="243.38" cy="412.11" r="4"/>
     <circle cx="243.74" cy="412.28" r="4"/>
     <circle cx="244.10" cy="412.45" r="4"/>
     <circle cx="244.47" cy="412.62" r="4"/>
     <circle cx="244.65" cy="412.70" r="4"/>
     <circle cx="244.83" cy="412.79" r="4"/>
     <circle cx="245.20" cy="412.96" r="4"/>
     <circle cx="245.56" cy="413.13" r="4"/>
     <circle cx="245.74" cy="413.22" r="4"/>
     <circle cx="246.10" cy="413.39" r="4"/>
     <circle cx="246.47" cy="413.56" r="4"/>
     <circle cx="246.83" cy="413.76" r="4"/>
     <circle cx="247.20" cy="413.97" r="4"/>
     <circle cx="247.56" cy="414.18" r="4"/>
     <circle cx="247.74" cy="414.28" r="4"/>
     <circle cx="248.11" cy="414.49" r="4"/>
     <circle cx="248.29" cy="414.59" r="4"/>
     <circle cx="248.65" cy="414.80" r="4"/>
     <circle cx="249.02" cy="415.01" r="4"/>
     <circle cx="249.38" cy="415.22" r="4"/>
     <circle cx="249.56" cy="415.32" r="4"/>
     <circle cx="249.93" cy="415.53" r="4"/>
     <circle cx="250.29" cy="415.74" r="4"/>
     <circle cx="250.65" cy="415.95" r="4"/>
     <circle cx="251.02" cy="416.15" r="4"/>
     <circle cx="251.38" cy="416.36" r="4"/>
     <circle cx="251.75" cy="416.57" r="4"/>
     <circle cx="252.11" cy="416.78" r="4"/>
     <circle cx="252.47" cy="416.99" r="4"/>
     <circle cx="252.84" cy="417.19" r="4"/>
     <circle cx="253.20" cy="417.40" r="4"/>
     <circle cx="253.57" cy="417.61" r="4"/>
     <circle cx="253.93" cy="417.82" r="4"/>
     <circle cx="254.29" cy="418.02" r="4"/>
     <circle cx="254.66" cy="418.23" r="4"/>
     <circle cx="255.02" cy="418.44" r="4"/>
     <circle cx="255.38" cy="418.65" r="4"/>
     <circle cx="255.75" cy="418.86" r="4"/>
     <circle cx="255.93" cy="418.96" r="4"/>
     <circle cx="256.29" cy="419.17" r="4"/>
     <circle cx="256.66" cy="419.38" r="4"/>
     <circle cx="256.84" cy="419.48" r="4"/>
     <circle cx="257.20" cy="419.69" r="4"/>
     <circle cx="257.57" cy="419.90" r="4"/>
     <circle cx="257.93" cy="420.10" r="4"/>
     <circle cx="258.30" cy="420.31" r="4"/>
     <circle cx="258.66" cy="420.52" r="4"/>
     <circle cx="259.02" cy="420.73" r="4"/>
     <circle cx="259.39" cy="420.94" r="4"/>
     <circle cx="259.57" cy="421.04" r="4"/>
     <circle cx="259.75" cy="421.14" r="4"/>
     <circle cx="259.93" cy="421.25" r="4"/>
     <circle cx="260.30" cy="421.46" r="4"/>
     <circle cx="260.66" cy="421.66" r="4"/>
     <circle cx="261.03" cy="421.87" r="4"/>
     <circle cx="261.39" cy="422.08" r="4"/>
     <circle cx="261.75" cy="422.29" r="4"/>
     <circle cx="262.12" cy="422.49" r="4"/>
     <circle cx="262.30" cy="422.60" r="4"/>
     <circle cx="262.66" cy="422.81" r="4"/>
     <circle cx="262.85" cy="422.91" r="4"/>
     <circle cx="263.03" cy="423.01" r="4"/>
     <circle cx="263.39" cy="423.22" r="4"/>
     <circle cx="263.75" cy="423.43" r="4"/>
     <circle cx="264.12" cy="423.64" r="4"/>
     <circle cx="264.30" cy="423.74" r="4"/>
     <circle cx="264.66" cy="423.95" r="4"/>
     <circle cx="264.85" cy="424.04" r="4"/>
     <circle cx="265.03" cy="424.12" r="4"/>
     <circle cx="265.39" cy="424.28" r="4"/>
     <circle cx="265.76" cy="424.45" r="4"/>
     <circle cx="266.12" cy="424.61" r="4"/>
     <circle cx="266.48" cy="424.78" r="4"/>
     <circle cx="266.67" cy="424.86" r="4"/>
     <circle cx="267.03" cy="425.02" r="4"/>
     <circle cx="267.39" cy="425.19" r="4"/>
     <circle cx="267.76" cy="425.35" r="4"/>
     <circle cx="268.12" cy="425.51" r="4"/>
     <circle cx="268.49" cy="425.68" r="4"/>
     <circle cx="268.67" cy="425.76" r="4"/>
     <circle cx="269.03" cy="425.92" r="4"/>
     <circle cx="269.40" cy="426.09" r="4"/>
     <circle cx="269.76" cy="426.25" r="4"/>
     <circle cx="270.12" cy="426.41" r="4"/>
     <circle cx="270.31" cy="426.50" r="4"/>
     <circle cx="270.67" cy="426.66" r="4"/>
     <circle cx="271.03" cy="426.82" r="4"/>
     <circle cx="271.40" cy="426.99" r="4"/>
     <circle cx="271.58" cy="427.07" r="4"/>
     <circle cx="271.76" cy="427.15" r="4"/>
     <circle cx="272.12" cy="427.31" r="4"/>
     <circle cx="272.49" cy="427.48" r="4"/>
     <circle cx="272.67" cy="427.56" r="4"/>
     <circle cx="273.03" cy="427.72" r="4"/>
     <circle cx="273.22" cy="427.81" r="4"/>
     <circle cx="273.40" cy="427.89" r="4"/>
     <circle cx="273.76" cy="428.05" r="4"/>
     <circle cx="274.13" cy="428.22" r="4"/>
     <circle cx="274.31" cy="428.30" r="4"/>
     <circle cx="274.49" cy="428.38" r="4"/>
     <circle cx="274.85" cy="428.54" r="4"/>
     <circle cx="275.22" cy="428.71" r="4"/>
     <circle cx="275.58" cy="428.87" r="4"/>
     <circle cx="275.95" cy="429.03" r="4"/>
     <circle cx="276.31" cy="429.20" r="4"/>
     <circle cx="276.67" cy="429.36" r="4"/>
     <circle cx="277.04" cy="429.53" r="4"/>
     <circle cx="277.22" cy="429.61" r="4"/>
     <circle cx="277.40" cy="429.69" r="4"/>
     <circle cx="277.58" cy="429.77" r="4"/>
     <circle cx="277.77" cy="429.85" r="4"/>
     <circle cx="278.13" cy="430.02" r="4"/>
     <circle cx="278.49" cy="430.18" r="4"/>
     <circle cx="278.86" cy="430.35" r="4"/>
     <circle cx="279.22" cy="430.51" r="4"/>
     <circle cx="279.40" cy="430.59" r="4"/>
     <circle cx="279.58" cy="430.67" r="4"/>
     <circle cx="279.95" cy="430.84" r="4"/>
     <circle cx="280.31" cy="431.00" r="4"/>
     <circle cx="280.68" cy="431.16" r="4"/>
     <circle cx="280.86" cy="431.25" r="4"/>
     <circle cx="281.22" cy="431.41" r="4"/>
     <circle cx="281.59" cy="431.57" r="4"/>
     <circle cx="281.95" cy="431.74" r="4"/>
     <circle cx="282.31" cy="431.90" r="4"/>
     <circle cx="282.68" cy="432.06" r="4"/>
     <circle cx="283.04" cy="432.23" r="4"/>
     <circle cx="283.41" cy="432.43" r="4"/>
     <circle cx="283.77" cy="432.62" r="4"/>
     <circle cx="284.13" cy="432.81" r="4"/>
     <circle cx="284.50" cy="433.01" r="4"/>
     <circle cx="284.86" cy="433.20" r="4"/>
     <circle cx="285.04" cy="433.30" r="4"/>
     <circle cx="285.41" cy="433.49" r="4"/>
     <circle cx="285.77" cy="433.68" r="4"/>
     <circle cx="286.14" cy="433.88" r="4"/>
     <circle cx="286.50" cy="434.07" r="4"/>
     <circle cx="286.68" cy="434.17" r="4"/>
     <circle cx="286.86" cy="434.26" r="4"/>
     <circle cx="287.23" cy="434.46" r="4"/>
     <circle cx="287.41" cy="434.55" r="4"/>
     <circle cx="287.77" cy="434.75" r="4"/>
     <circle cx="288.14" cy="434.94" r="4"/>
     <circle cx="288.50" cy="435.13" r="4"/>
     <circle cx="288.68" cy="435.23" r="4"/>
     <circle cx="289.05" cy="435.42" r="4"/>
     <circle cx="289.41" cy="435.62" r="4"/>
     <circle cx="289.59" cy="435.70" r="4"/>
     <circle cx="289.96" cy="435.80" r="4"/>
     <circle cx="291.05" cy="436.12" r="4"/>
     <circle cx="292.14" cy="436.43" r="4"/>
     <circle cx="293.96" cy="436.96" r="4"/>
     <circle cx="296.14" cy="437.59" r="4"/>
     <circle cx="297.96" cy="438.12" r="4"/>
     <circle cx="298.69" cy="438.33" r="4"/>
     <circle cx="300.15" cy="438.75" r="4"/>
     <circle cx="301.60" cy="439.17" r="4"/>
     <circle cx="303.42" cy="439.69" r="4"/>
     <circle cx="305.60" cy="440.32" r="4"/>
     <circle cx="307.79" cy="440.97" r="4"/>
     <circle cx="309.97" cy="441.62" r="4"/>
     <circle cx="311.79" cy="442.16" r="4"/>
     <circle cx="313.25" cy="442.60" r="4"/>
     <circle cx="314.70" cy="443.03" r="4"/>
     <circle cx="315.43" cy="443.25" r="4"/>
     <circle cx="316.89" cy="443.68" r="4"/>
     <circle cx="318.34" cy="444.12" r="4"/>
     <circle cx="320.16" cy="444.66" r="4"/>
     <circle cx="321.62" cy="445.10" r="4"/>
     <circle cx="322.71" cy="445.42" r="4"/>
     <circle cx="324.16" cy="445.86" r="4"/>
     <circle cx="325.98" cy="446.40" r="4"/>
     <circle cx="326.71" cy="446.62" r="4"/>
     <circle cx="328.53" cy="447.16" r="4"/>
     <circle cx="329.62" cy="447.49" r="4"/>
     <circle cx="331.44" cy="448.02" r="4"/>
     <circle cx="332.90" cy="448.34" r="4"/>
     <circle cx="334.35" cy="448.66" r="4"/>
     <circle cx="335.08" cy="448.82" r="4"/>
     <circle cx="335.81" cy="448.98" r="4"/>
     <circle cx="336.90" cy="449.22" r="4"/>
     <circle cx="338.36" cy="449.54" r="4"/>
     <circle cx="339.81" cy="449.86" r="4"/>
     <circle cx="342.00" cy="450.34" r="4"/>
     <circle cx="342.72" cy="450.50" r="4"/>
     <circle cx="344.54" cy="450.89" r="4"/>
     <circle cx="345.64" cy="451.13" r="4"/>
     <circle cx="347.45" cy="451.53" r="4"/>
     <circle cx="348.18" cy="451.69" r="4"/>
     <circle cx="349.27" cy="451.93" r="4"/>
     <circle cx="350.00" cy="452.09" r="4"/>
     <circle cx="351.09" cy="452.33" r="4"/>
     <circle cx="351.82" cy="452.49" r="4"/>
     <circle cx="353.64" cy="452.89" r="4"/>
     <circle cx="355.46" cy="453.29" r="4"/>
     <circle cx="356.19" cy="453.43" r="4"/>
     <circle cx="357.28" cy="453.60" r="4"/>
     <circle cx="359.46" cy="453.96" r="4"/>
     <circle cx="361.65" cy="454.31" r="4"/>
     <circle cx="363.83" cy="454.67" r="4"/>
     <circle cx="364.56" cy="454.79" r="4"/>
     <circle cx="366.74" cy="455.14" r="4"/>
     <circle cx="368.20" cy="455.38" r="4"/>
     <circle cx="368.93" cy="455.49" r="4"/>
     <circle cx="370.75" cy="455.79" r="4"/>
     <circle cx="371.47" cy="455.91" r="4"/>
     <circle cx="372.20" cy="456.03" r="4"/>
     <circle cx="374.38" cy="456.38" r="4"/>
     <circle cx="375.11" cy="456.50" r="4"/>
     <circle cx="376.57" cy="456.73" r="4"/>
     <circle cx="378.75" cy="457.09" r="4"/>
     <circle cx="379.84" cy="457.26" r="4"/>
     <circle cx="380.93" cy="457.43" r="4"/>
     <circle cx="382.03" cy="457.58" r="4"/>
     <circle cx="383.85" cy="457.83" r="4"/>
     <circle cx="385.67" cy="458.09" r="4"/>
     <circle cx="386.76" cy="458.24" r="4"/>
     <circle cx="387.49" cy="458.34" r="4"/>
     <circle cx="388.94" cy="458.54" r="4"/>
     <circle cx="390.40" cy="458.75" r="4"/>
     <circle cx="391.85" cy="458.95" r="4"/>
     <circle cx="393.67" cy="459.20" r="4"/>
     <circle cx="394.40" cy="459.30" r="4"/>
     <circle cx="396.22" cy="459.56" r="4"/>
     <circle cx="397.67" cy="459.76" r="4"/>
     <circle cx="398.40" cy="459.86" r="4"/>
     <circle cx="400.22" cy="460.12" r="4"/>
     <circle cx="402.41" cy="460.42" r="4"/>
     <circle cx="403.50" cy="460.57" r="4"/>
     <circle cx="404.95" cy="460.77" r="4"/>
     <circle cx="406.41" cy="460.93" r="4"/>
     <circle cx="407.86" cy="461.08" r="4"/>
     <circle cx="409.32" cy="461.24" r="4"/>
     <circle cx="410.78" cy="461.39" r="4"/>
     <circle cx="412.23" cy="461.55" r="4"/>
     <circle cx="413.32" cy="461.66" r="4"/>
     <circle cx="414.05" cy="461.74" r="4"/>
     <circle cx="416.23" cy="461.97" r="4"/>
     <circle cx="417.69" cy="462.13" r="4"/>
     <circle cx="418.78" cy="462.24" r="4"/>
     <circle cx="420.97" cy="462.48" r="4"/>
     <circle cx="422.42" cy="462.63" r="4"/>
     <circle cx="423.51" cy="462.75" r="4"/>
     <circle cx="424.24" cy="462.83" r="4"/>
     <circle cx="424.97" cy="462.90" r="4"/>
     <circle cx="425.99" cy="463.01" r="4"/>
    </g>
   </g>
   <g id="line2d_54">
    <path d="M 426.240 576.720 L 426.240 236.880" clip-path="url(#p2898e21141)" style="fill: none; stroke-dasharray: 1.5,2.475; stroke-dashoffset: 0; stroke: #808080; stroke-opacity: 0.5; stroke-width: 1.5"/>
   </g>
   <g id="line2d_55">
    <path d="M 170.956957 355.035011 L 182.469158 366.937241 L 188.225259 372.524722 L 193.981359 377.77103 L 199.73746 382.684131 L 205.493561 387.292989 L 211.249661 391.633471 L 218.444787 396.73682 L 225.639913 401.542937 L 234.274064 406.997655 L 242.908215 412.185505 L 251.542366 417.130591 L 258.737492 421.033384 L 265.932618 424.689524 L 273.127744 428.055504 L 280.32287 431.140642 L 288.957021 434.573488 L 300.469222 438.903792 L 313.420449 443.531746 L 324.93265 447.393036 L 336.444851 451.003396 L 347.957053 454.368633 L 359.469254 457.502054 L 370.981455 460.420942 L 383.932682 463.472055 L 396.883908 466.303637 L 411.27416 469.225343 L 427.103437 472.206697 L 444.371739 475.229338 L 463.079066 478.28273 L 484.664444 481.57035 L 507.688847 484.843767 L 532.152275 488.094851 L 558.054728 491.311389 L 585.396206 494.47704 L 612.737684 497.422495 L 641.518188 500.296706 L 670.298691 502.94725 L 699.079195 505.380447 L 729.298723 507.706894 L 745.128 508.833808 L 745.128 508.833808" clip-path="url(#p2898e21141)" style="fill: none; stroke: #0000ff; stroke-width: 1.5; stroke-linecap: square"/>
   </g>
   <g id="line2d_56">
    <path d="M 290.2536 434.746313 L 308.494177 440.040955 L 327.874791 446.106417 L 334.715008 447.909421 L 343.835296 450.107377 L 352.955585 452.067034 L 362.075874 453.803158 L 375.756307 456.140474 L 390.576776 458.464184 L 403.117173 460.213205 L 425.917895 463.07408 L 429.338003 463.383929 L 463.539086 466.791238 L 477.219519 467.882819 L 495.460096 469.090213 L 545.621684 472.056045 L 568.422406 473.218751 L 631.124391 476.11984 L 650.505005 477.072208 L 674.445762 477.909042 L 706.366773 478.859379 L 731.447567 479.390413 L 745.128 479.570551 L 745.128 479.570551" clip-path="url(#p2898e21141)" style="fill: none; stroke-dasharray: 5.55,2.4; stroke-dashoffset: 0; stroke: #008000; stroke-width: 1.5"/>
   </g>
   <g id="line2d_57">
    <path d="M 290.2536 434.749761 L 326.765258 446.408896 L 332.850534 448.077296 L 341.978448 450.308898 L 351.106363 452.299469 L 360.234277 454.061803 L 370.88351 455.878175 L 384.575382 457.96601 L 398.267254 459.846853 L 410.437806 461.287759 L 421.087039 462.395967 L 430.214954 463.105282 L 443.906825 463.916733 L 486.503759 466.02717 L 516.93014 467.474041 L 544.313884 468.500049 L 652.327537 472.137245 L 696.44579 473.121456 L 729.914809 473.663213 L 745.128 473.819206 L 745.128 473.819206" clip-path="url(#p2898e21141)" style="fill: none; stroke-dasharray: 5.55,2.4; stroke-dashoffset: 0; stroke: #ff0000; stroke-width: 1.5"/>
   </g>
   <g id="patch_10">
    <path d="M 108.360 577.080 L 108.360 236.520" style="fill: none; stroke: #000000; stroke-width: 0.8; stroke-linejoin: miter; stroke-linecap: square"/>
   </g>
   <g id="patch_11">
    <path d="M 777.960 577.080 L 777.960 236.520" style="fill: none; stroke: #000000; stroke-width: 0.8; stroke-linejoin: miter; stroke-linecap: square"/>
   </g>
   <g id="patch_12">
    <path d="M 108.360 577.080 L 777.960 577.080" style="fill: none; stroke: #000000; stroke-width: 0.8; stroke-linejoin: miter; stroke-linecap: square"/>
   </g>
   <g id="patch_13">
    <path d="M 108.360 236.520 L 777.960 236.520" style="fill: none; stroke: #000000; stroke-width: 0.8; stroke-linejoin: miter; stroke-linecap: square"/>
   </g>
   <g id="text_30">
    <text style="font-size: 12px; font-family: 'DejaVu Sans', 'Liberation Sans', sans-serif; text-anchor: middle" x="442.3680" y="230.5200" textLength="382.680" lengthAdjust="spacing">west_test_2_5_No_54.csv: up to 99% data used in the final step</text>
   </g>
  </g>
 </g>
 <defs>
  <clipPath id="p1f0228e9eb">
   <rect x="108" y="77.76" width="669.6" height="113.4"/>
  </clipPath>
  <clipPath id="p2898e21141">
   <rect x="108" y="236.52" width="669.6" height="340.2"/>
  </clipPath>
 </defs>
 <g transform="translate(44.640 47.520) scale(0.7200)"><path d="M183.70 671.50H519.80" stroke="#000" stroke-width="2.08" fill="none"/><path d="M174.00 671.50L184.70 666.20L184.70 676.80ZM529.50 671.50L518.80 666.20L518.80 676.80Z" fill="#000"/>
<path d="M350.40 702.70H519.80" stroke="#000" stroke-width="2.08" fill="none"/><path d="M340.70 702.70L351.40 697.40L351.40 708.00ZM529.50 702.70L518.80 697.40L518.80 708.00Z" fill="#000"/>
<path d="M521.1 430.07L532.0 435.27L521.1 440.47ZM537.8 430.07L526.8 435.27L537.8 440.47Z" fill="#000"/>
<path d="M524 435.27H535" stroke="#000" stroke-width="2.3" fill="none"/>
<text x="536.38" y="676.00" font-size="13.889" text-anchor="start" fill="#000" textLength="316.00" lengthAdjust="spacing">Data Range Used (Nonlinear + Step Loading)</text>
<text x="536.38" y="708.00" font-size="13.889" text-anchor="start" fill="#000" textLength="372.30" lengthAdjust="spacing">Data Range Used (Nonlinear and Original Hyperbolic)</text>
<text x="538.72" y="440.00" font-size="13.889" text-anchor="start" fill="#000" textLength="173.96" lengthAdjust="spacing">RMSE Estimation Section</text>
<rect x="685.30" y="336.10" width="293.20" height="76.50" rx="4.60" fill="#fff" fill-opacity="0.2" stroke="#000" stroke-opacity="0.2" stroke-width="1.39"/>
<text x="972.99" y="353.00" font-size="16.667" text-anchor="end" fill="#ff0000">Root Mean Squared Error</text>
<text x="689.67" y="371.00" font-size="16.667" text-anchor="start" fill="#ff0000" textLength="283.47" lengthAdjust="spacing">Nonlinear + Step Loading: 28.636</text>
<text x="738.57" y="388.00" font-size="16.667" text-anchor="start" fill="#ff0000" textLength="234.05" lengthAdjust="spacing">Nonlinear Hyperbolic: 0.253</text>
<text x="753.92" y="406.00" font-size="16.667" text-anchor="start" fill="#ff0000" textLength="218.69" lengthAdjust="spacing">Original Hyperbolic: 3.282</text>
<rect x="676.40" y="462.00" width="302.10" height="76.85" rx="4.60" fill="#fff" fill-opacity="0.2" stroke="#000" stroke-opacity="0.2" stroke-width="1.39"/>
<text x="680.67" y="479.00" font-size="16.667" text-anchor="start" fill="#ff0000" textLength="291.82" lengthAdjust="spacing">Error in Final Monitored Settlement</text>
<text x="683.67" y="497.00" font-size="16.667" text-anchor="start" fill="#ff0000" textLength="289.35" lengthAdjust="spacing">Nonlinear + Step Loading: -28.667</text>
<text x="732.37" y="514.00" font-size="16.667" text-anchor="start" fill="#ff0000" textLength="240.60" lengthAdjust="spacing">Nonlinear Hyperbolic: -0.120</text>
<text x="972.74" y="532.00" font-size="16.667" text-anchor="end" fill="#ff0000">Original Hyperbolic: 3.428</text>
<rect x="495.9" y="270.7" width="513.4" height="51.7" rx="3.3" fill="#fff" fill-opacity="0.8" stroke="#ccc" stroke-opacity="0.8" stroke-width="1.39"/>
<path d="M501.85 282.93H535.1" style="stroke:#0000ff;stroke-width:2.08;stroke-linecap:square;fill:none"/>
<path d="M501.85 306.97H534.6" stroke="#008000" stroke-width="2.08" stroke-dasharray="7.71,3.33" fill="none"/>
<path d="M796.0 282.93H828.7" stroke="#ff0000" stroke-width="2.08" stroke-dasharray="7.71,3.33" fill="none"/>
<circle cx="812.4" cy="308.4" r="5.15" fill="#fff" stroke="#000" stroke-width="1.39"/>
<text x="549.37" y="290.00" font-size="16.667" text-anchor="start" fill="#000">Nonlinear + Step Loading</text>
<text x="549.37" y="313.00" font-size="16.667" text-anchor="start" fill="#000">Nonlinear Hyperbolic</text>
<text x="841.87" y="290.00" font-size="16.667" text-anchor="start" fill="#000" textLength="160.46" lengthAdjust="spacing">Original Hyperbolic</text>
<text x="841.65" y="313.00" font-size="16.667" text-anchor="start" fill="#000" textLength="126.76" lengthAdjust="spacing">measured data</text>
</g>
</svg>

</body></html>
